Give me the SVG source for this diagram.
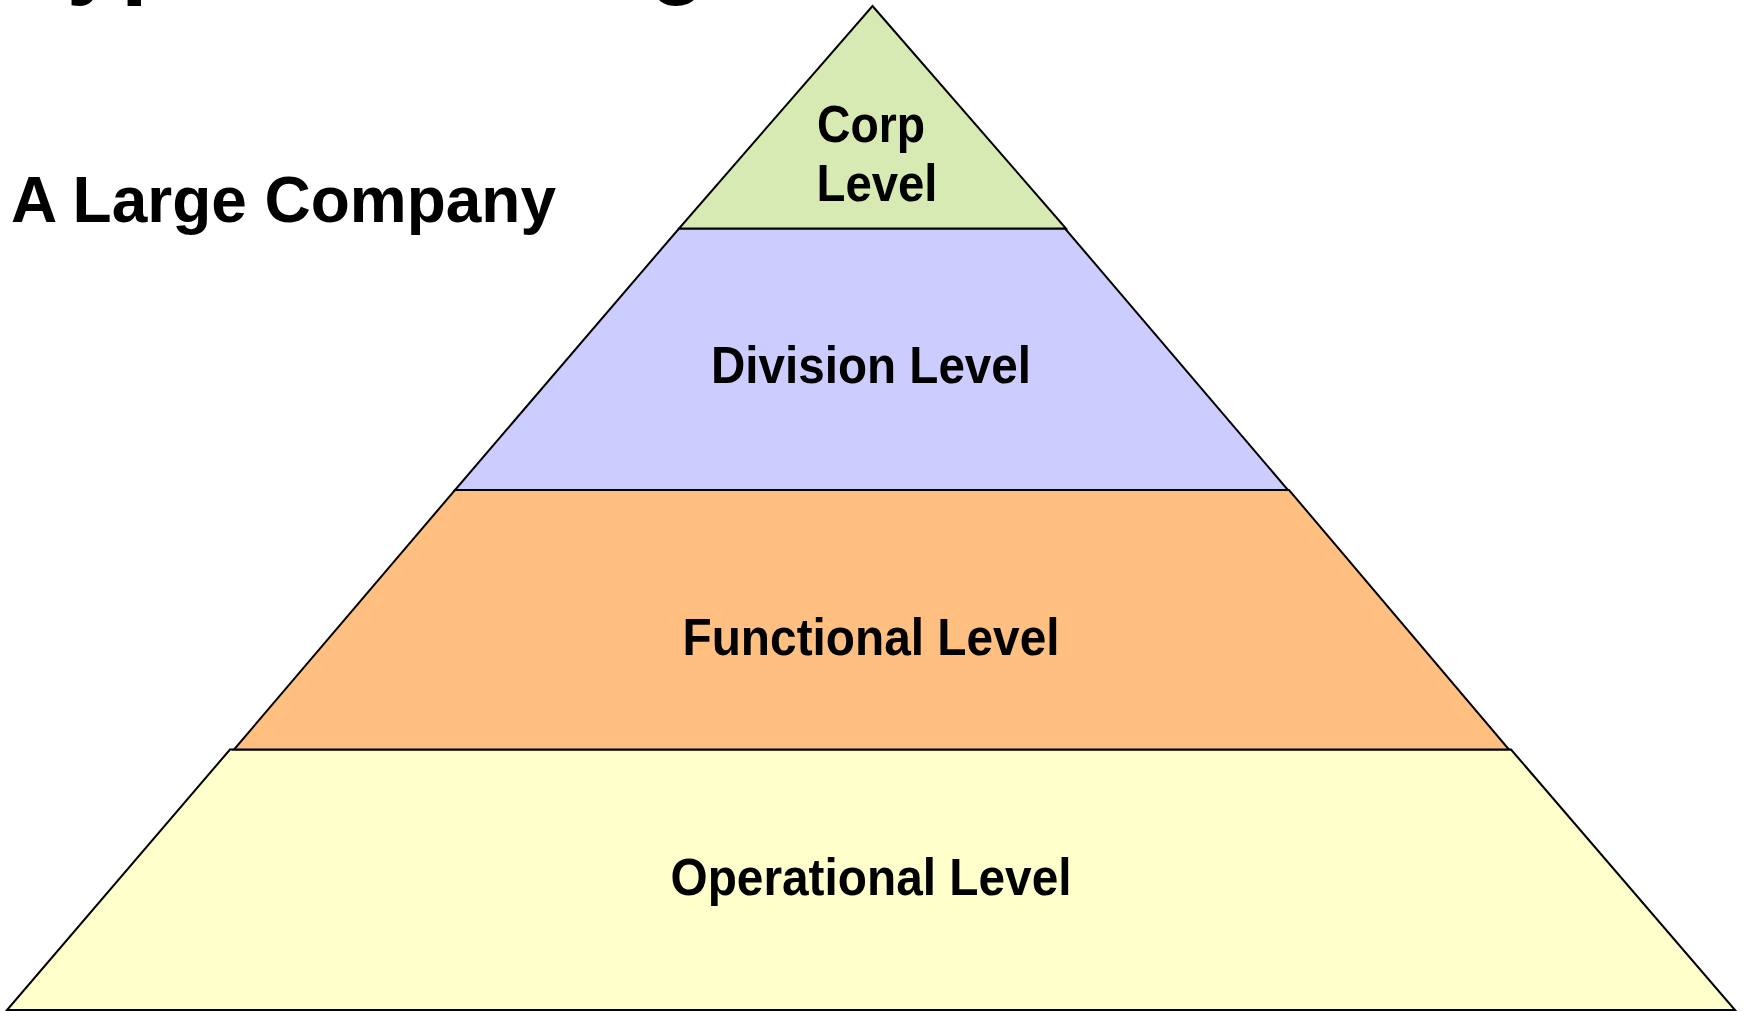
<svg xmlns="http://www.w3.org/2000/svg" width="1744" height="1011" viewBox="0 0 1744 1011">
<style>
.lvl{stroke:#000;stroke-width:2;stroke-linejoin:miter}
.t{font-family:"Liberation Sans",Arial,sans-serif;font-weight:bold;fill:#000}
.lab{font-size:52px;text-anchor:middle}
</style>
<rect width="1744" height="1011" fill="#fff"/>
<text class="t" x="14" y="-18" font-size="113" textLength="775" lengthAdjust="spacingAndGlyphs">Typical Strategic</text>
<text class="t" x="11" y="222" font-size="65" textLength="545" lengthAdjust="spacingAndGlyphs">A Large Company</text>
<g id="operational">
<polygon class="lvl" fill="#FFFFCC" points="230,749.5 1511,749.5 1735,1010 7,1010"/>
<text class="t lab" x="871" y="895" textLength="401" lengthAdjust="spacingAndGlyphs">Operational Level</text>
</g>
<g id="functional">
<polygon class="lvl" fill="#FFBF80" points="455,490 1289,490 1509,749.5 234,749.5"/>
<text class="t lab" x="871" y="655" textLength="377" lengthAdjust="spacingAndGlyphs">Functional Level</text>
</g>
<g id="division">
<polygon class="lvl" fill="#CCCCFF" points="679,228.5 1065,228.5 1288,490 455,490"/>
<text class="t lab" x="871" y="383" textLength="320" lengthAdjust="spacingAndGlyphs">Division Level</text>
</g>
<g id="corp">
<polygon class="lvl" fill="#D8EAB3" points="872.5,6 1066,228.5 679,228.5"/>
<text class="t lab" x="871" y="142" textLength="108" lengthAdjust="spacingAndGlyphs">Corp</text>
<text class="t lab" x="877" y="201" textLength="121" lengthAdjust="spacingAndGlyphs">Level</text>
</g>
<g id="connectors"/>
</svg>
